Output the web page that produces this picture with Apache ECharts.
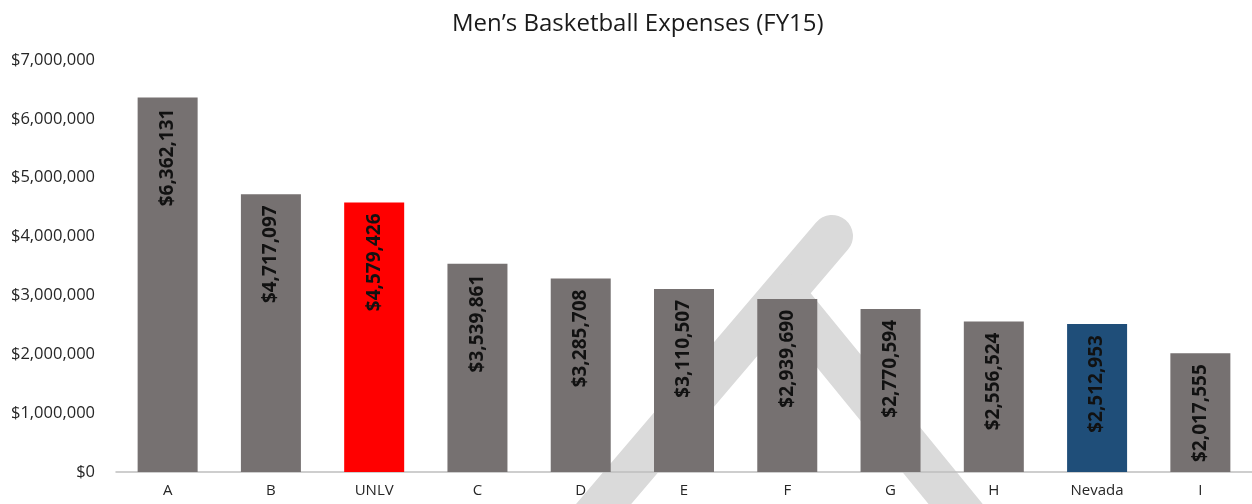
<!DOCTYPE html>
<html>
<head>
<meta charset="utf-8">
<script src="https://cdn.jsdelivr.net/npm/echarts@6/dist/echarts.min.js"></script>
<style>
  html, body { margin: 0; padding: 0; background: #fff; }
  #chart { width: 1252px; height: 504px; }
</style>
</head>
<body>
<div id="chart"></div>
<script>
const schools = ['A', 'B', 'UNLV', 'C', 'D', 'E', 'F', 'G', 'H', 'Nevada', 'I']
const expenses = [6362131, 4717097, 4579426, 3539861, 3285708, 3110507, 2939690, 2770594, 2556524, 2512953, 2017555]

// bar colours
const barGray = '#767171'
const highlight = { UNLV: '#ff0000', Nevada: '#1f4e79' }

const money = v => '$' + Number(v).toLocaleString('en-US')

const chart = echarts.init(document.getElementById('chart'))

const option = {
  animation: false,
  textStyle: { fontFamily: 'Open Sans' },
  title: {
    text: 'Men\u2019s Basketball Expenses (FY15)',
    left: 447,
    top: 7,
    textStyle: { fontSize: 24, fontWeight: 'normal', color: '#1a1a1a', fontFamily: 'Open Sans' }
  },
  // faint watermark behind the bars
  graphic: [
    {
      type: 'polyline', z: 0, silent: true,
      shape: { points: [[832, 236], [590, 520]] },
      style: { stroke: '#dadada', lineWidth: 42, lineCap: 'round', fill: null }
    },
    {
      type: 'polyline', z: 0, silent: true,
      shape: { points: [[785, 295], [985, 540]] },
      style: { stroke: '#dadada', lineWidth: 42, lineCap: 'round', fill: null }
    }
  ],
  grid: { left: 116, right: 0, top: 60, bottom: 32 },
  xAxis: {
    type: 'category',
    data: schools,
    axisTick: { show: false },
    axisLine: { lineStyle: { color: '#bfbfbf', width: 1.5 } },
    axisLabel: { color: '#262626', fontSize: 15, margin: 11 }
  },
  yAxis: {
    type: 'value',
    min: 0,
    max: 7000000,
    interval: 1000000,
    splitLine: { show: false },
    axisLine: { show: false },
    axisLabel: { color: '#262626', fontSize: 16.5, margin: 21, formatter: money }
  },
  series: [{
    type: 'bar',
    z: 2,
    barWidth: 60,
    data: expenses.map((v, i) => ({
      value: v,
      itemStyle: { color: highlight[schools[i]] || barGray }
    })),
    label: {
      show: true,
      rotate: 90,
      position: 'insideTop',
      align: 'right',
      verticalAlign: 'middle',
      distance: 11,
      fontSize: 19,
      fontWeight: 'bold',
      color: '#111',
      formatter: p => money(p.value)
    }
  }]
}

chart.setOption(option)
</script>
</body>
</html>
